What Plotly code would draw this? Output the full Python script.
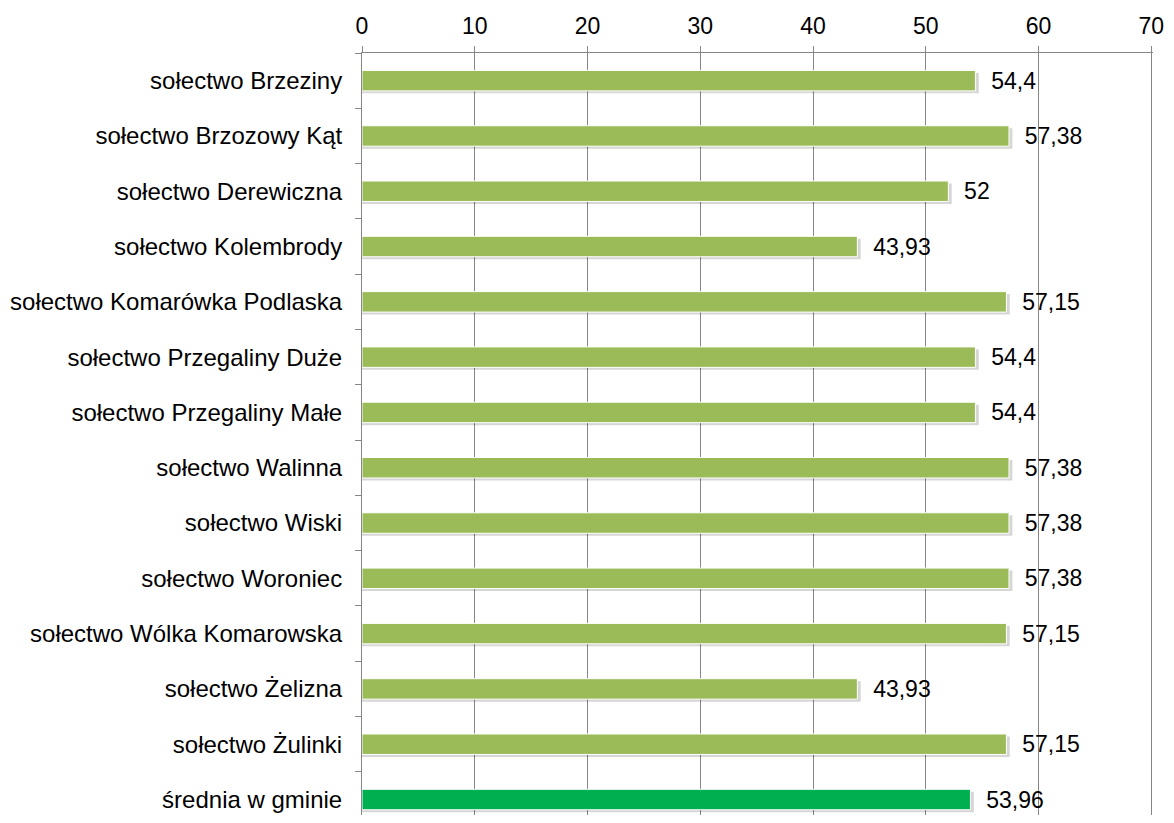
import plotly.graph_objects as go

# data
categories = [
    "sołectwo Brzeziny",
    "sołectwo Brzozowy Kąt",
    "sołectwo Derewiczna",
    "sołectwo Kolembrody",
    "sołectwo Komarówka Podlaska",
    "sołectwo Przegaliny Duże",
    "sołectwo Przegaliny Małe",
    "sołectwo Walinna",
    "sołectwo Wiski",
    "sołectwo Woroniec",
    "sołectwo Wólka Komarowska",
    "sołectwo Żelizna",
    "sołectwo Żulinki",
    "średnia w gminie",
]
values = [54.4, 57.38, 52, 43.93, 57.15, 54.4, 54.4, 57.38, 57.38, 57.38, 57.15, 43.93, 57.15, 53.96]
x_ticks = [0, 10, 20, 30, 40, 50, 60, 70]

bar_colors = ["#9BBB59"] * (len(values) - 1) + ["#00B050"]
labels = ["\u00a0\u00a0" + f"{v:g}".replace(".", ",") for v in values]

FONT = "Liberation Sans, Arial"

fig = go.Figure()

# soft shadow under bars
fig.add_trace(go.Bar(
    y=categories, x=[v + 0.3 for v in values], orientation="h",
    width=0.37, offset=-0.14,
    marker=dict(color="rgba(0,0,0,0.16)", line=dict(width=0)),
    hoverinfo="skip", showlegend=False,
))

fig.add_trace(go.Bar(
    y=categories, x=values, orientation="h",
    width=0.37, offset=-0.185,
    marker=dict(color=bar_colors, line=dict(color="white", width=1)),
    text=labels, textposition="outside", cliponaxis=False,
    constraintext="none",
    textfont=dict(family=FONT, size=23, color="black"),
    showlegend=False,
))

# page has an 8px body margin, so margins are shifted by 8
fig.update_layout(
    width=1158, height=807,
    margin=dict(l=354, r=13, t=45, b=0),
    plot_bgcolor="white", paper_bgcolor="white",
    barmode="overlay",
    font=dict(family=FONT, size=23, color="black"),
    xaxis=dict(
        side="top", range=[0, 70.15], tickvals=x_ticks,
        showgrid=True, gridcolor="#868686", gridwidth=1,
        showline=True, linecolor="#868686", linewidth=1,
        ticks="outside", ticklen=6, tickcolor="#868686",
        tickfont=dict(size=23), zeroline=False,
        ticklabelstandoff=3, automargin=False,
        ticklabeloverflow="allow",
    ),
    yaxis=dict(
        categoryorder="array", categoryarray=categories,
        range=[13.28, -0.5], tickson="boundaries",
        showline=True, linecolor="#868686", linewidth=1,
        ticks="outside", ticklen=6, tickcolor="#868686",
        tickfont=dict(size=24), showgrid=False,
        ticklabelstandoff=14, automargin=False,
    ),
)

fig.write_html("out.html")
